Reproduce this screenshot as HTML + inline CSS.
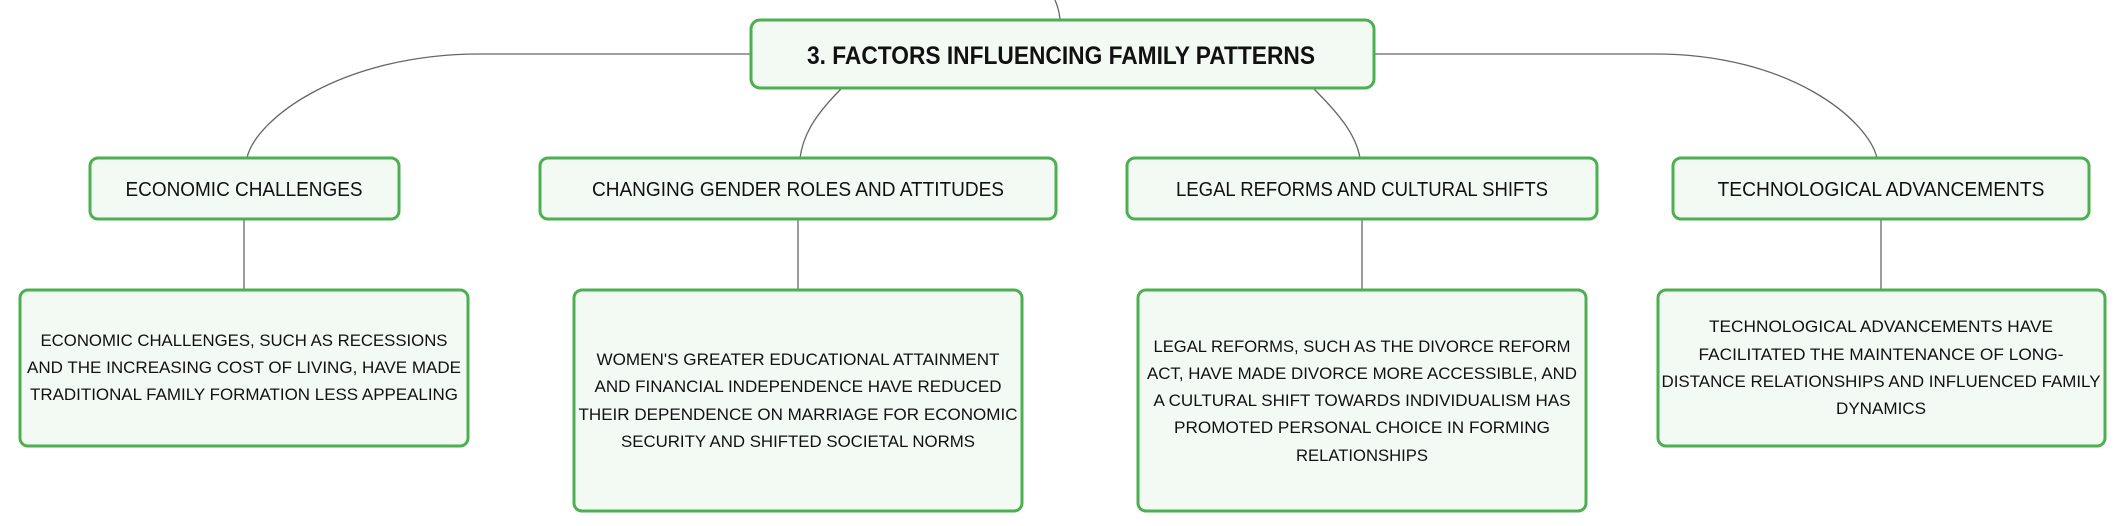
<!DOCTYPE html>
<html><head><meta charset="utf-8"><style>
html,body{margin:0;padding:0;background:#fff;width:2126px;height:526px;overflow:hidden}
svg text{font-family:"Liberation Sans",sans-serif;fill:#111}
</style></head><body>
<svg width="2126" height="526" viewBox="0 0 2126 526" xmlns="http://www.w3.org/2000/svg">
<g fill="none" stroke="#666" stroke-width="1.3">
<path d="M1060 19 C1059 10 1057 5 1055 0"/>
<path d="M750 54 L480 54 C340 54 255 120 247 158"/>
<path d="M841 89 C815 115 803 135 800 158"/>
<path d="M1314 89 C1340 115 1356 135 1360 158"/>
<path d="M1374 54 L1655 54 C1790 54 1868 120 1877 158"/>
<path d="M244 219 V289"/><path d="M798 219 V289"/><path d="M1362 219 V289"/><path d="M1881 219 V289"/>
</g>
<g fill="#f3faf4" stroke="#4caf50" stroke-width="3">
<rect x="751" y="20" width="623" height="68" rx="9"/>
<rect x="90" y="158" width="309" height="61" rx="8"/>
<rect x="540" y="158" width="516" height="61" rx="8"/>
<rect x="1127" y="158" width="470" height="61" rx="8"/>
<rect x="1673" y="158" width="416" height="61" rx="8"/>
<rect x="20" y="290" width="448" height="156" rx="8"/>
<rect x="574" y="290" width="448" height="221" rx="8"/>
<rect x="1138" y="290" width="448" height="221" rx="8"/>
<rect x="1658" y="290" width="447" height="156" rx="8"/>
</g>
<g text-anchor="middle">
<text x="1061" y="64" font-size="25" font-weight="bold" textLength="508" lengthAdjust="spacingAndGlyphs">3. FACTORS INFLUENCING FAMILY PATTERNS</text>
<g font-size="20">
<text x="244" y="196" textLength="237" lengthAdjust="spacingAndGlyphs">ECONOMIC CHALLENGES</text>
<text x="798" y="196" textLength="412" lengthAdjust="spacingAndGlyphs">CHANGING GENDER ROLES AND ATTITUDES</text>
<text x="1362" y="196" textLength="372" lengthAdjust="spacingAndGlyphs">LEGAL REFORMS AND CULTURAL SHIFTS</text>
<text x="1881" y="196" textLength="327" lengthAdjust="spacingAndGlyphs">TECHNOLOGICAL ADVANCEMENTS</text>
</g>
<g font-size="17">
<text x="244" y="346" textLength="407" lengthAdjust="spacingAndGlyphs">ECONOMIC CHALLENGES, SUCH AS RECESSIONS</text>
<text x="244" y="373" textLength="434" lengthAdjust="spacingAndGlyphs">AND THE INCREASING COST OF LIVING, HAVE MADE</text>
<text x="244" y="400" textLength="428" lengthAdjust="spacingAndGlyphs">TRADITIONAL FAMILY FORMATION LESS APPEALING</text>

<text x="798" y="365" textLength="403" lengthAdjust="spacingAndGlyphs">WOMEN'S GREATER EDUCATIONAL ATTAINMENT</text>
<text x="798" y="392" textLength="407" lengthAdjust="spacingAndGlyphs">AND FINANCIAL INDEPENDENCE HAVE REDUCED</text>
<text x="798" y="420" textLength="439" lengthAdjust="spacingAndGlyphs">THEIR DEPENDENCE ON MARRIAGE FOR ECONOMIC</text>
<text x="798" y="447" textLength="354" lengthAdjust="spacingAndGlyphs">SECURITY AND SHIFTED SOCIETAL NORMS</text>

<text x="1362" y="352" textLength="417" lengthAdjust="spacingAndGlyphs">LEGAL REFORMS, SUCH AS THE DIVORCE REFORM</text>
<text x="1362" y="379" textLength="430" lengthAdjust="spacingAndGlyphs">ACT, HAVE MADE DIVORCE MORE ACCESSIBLE, AND</text>
<text x="1362" y="406" textLength="417" lengthAdjust="spacingAndGlyphs">A CULTURAL SHIFT TOWARDS INDIVIDUALISM HAS</text>
<text x="1362" y="433" textLength="376" lengthAdjust="spacingAndGlyphs">PROMOTED PERSONAL CHOICE IN FORMING</text>
<text x="1362" y="461" textLength="132" lengthAdjust="spacingAndGlyphs">RELATIONSHIPS</text>

<text x="1881" y="332" textLength="344" lengthAdjust="spacingAndGlyphs">TECHNOLOGICAL ADVANCEMENTS HAVE</text>
<text x="1881" y="360" textLength="365" lengthAdjust="spacingAndGlyphs">FACILITATED THE MAINTENANCE OF LONG-</text>
<text x="1881" y="387" textLength="439" lengthAdjust="spacingAndGlyphs">DISTANCE RELATIONSHIPS AND INFLUENCED FAMILY</text>
<text x="1881" y="414" textLength="90" lengthAdjust="spacingAndGlyphs">DYNAMICS</text>
</g>
</g>
</svg>
</body></html>
